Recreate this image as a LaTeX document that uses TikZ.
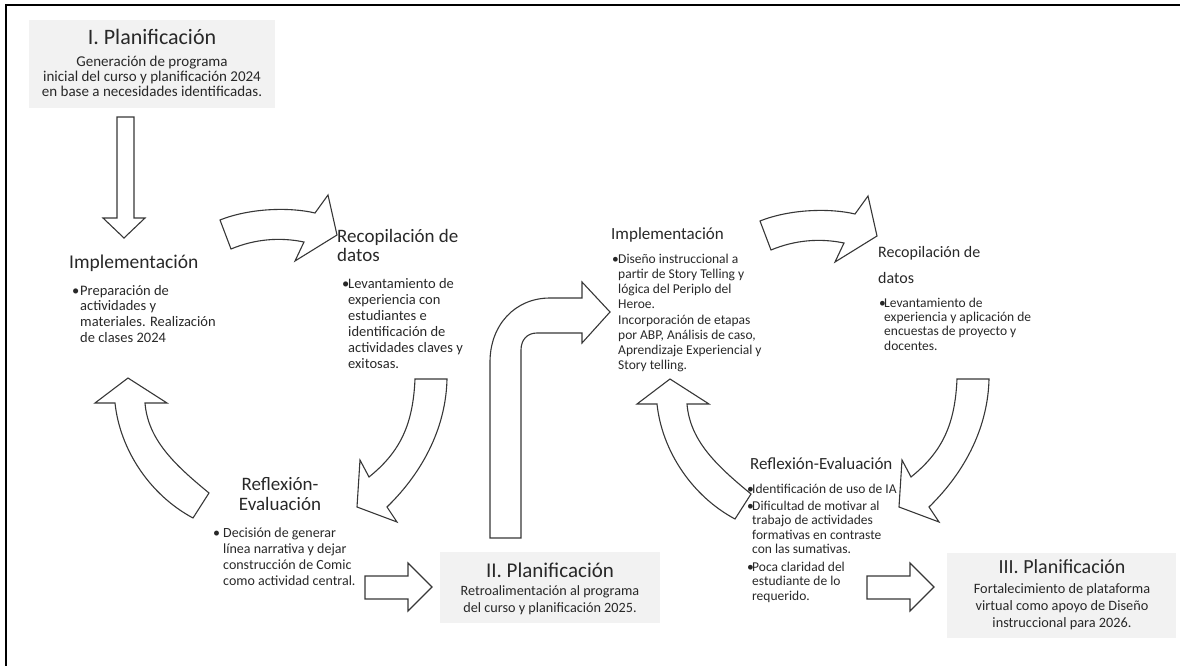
\documentclass[tikz,border=0pt]{standalone}
\usepackage{fontspec}
\setmainfont{Carlito}
\definecolor{txtc}{RGB}{40,40,40}
\definecolor{arrc}{RGB}{55,55,55}
\definecolor{boxc}{RGB}{242,242,242}
\newcommand\bulitem[1]{\leavevmode\llap{\makebox[#1][l]{•}}}
\newcommand\para[4]{\parbox[t]{#1}{\fontsize{#2}{#3}\selectfont\raggedright #4}}
\tikzset{
  lbl/.style={inner sep=0pt, text=txtc, anchor=base west},
  clbl/.style={inner sep=0pt, text=txtc, anchor=base},
  blockarrow/.style={draw=arrc, fill=white, line width=1.1pt, line join=miter},
  planbox/.style={fill=boxc, inner sep=0pt, anchor=north west},
  curveTop/.pic={\draw[blockarrow] (220,220) .. controls (250,208) and (290,207) .. (315,213) -- (328,195) -- (337,235) -- (295,261) -- (304,242) .. controls (280,237) and (255,239) .. (231,249) -- cycle;},
  curveDown/.pic={\draw[blockarrow] (415,379) .. controls (413,425) and (400,452) .. (369,477) -- (360,460) -- (357,507) -- (397,522) -- (387,507) .. controls (425,470) and (446,425) .. (447,379) -- cycle;},
  curveUp/.pic={\draw[blockarrow] (145,403) -- (167,403) -- (128,378) -- (95,403) -- (115,403) .. controls (120,450) and (150,495) .. (193,518) -- (209,493) .. controls (175,465) and (148,440) .. (145,403) -- cycle;},
  blockRight/.pic={\draw[blockarrow] (365,576) -- (408,576) -- (408,563) -- (432,587) -- (408,611) -- (408,599) -- (365,599) -- cycle;}
}
\begin{document}
\begin{tikzpicture}[x=1pt,y=-1pt]
\useasboundingbox (0,0) rectangle (1180,666);
\draw[line width=1.8pt] (6,5) rectangle (1195,700);

% plan boxes
\node[planbox, minimum width=246pt, minimum height=88pt] (boxI) at (29,20) {};
\node[planbox, minimum width=220pt, minimum height=71pt] (boxII) at (440,552) {};
\node[planbox, minimum width=229pt, minimum height=85pt] (boxIII) at (947,553) {};

% arrows
\draw[blockarrow] (117,117) -- (134,117) -- (134,218) -- (145,218) -- (124,238) -- (103,218) -- (117,218) -- cycle;
\pic at (0,0) {curveTop};
\pic at (540,1) {curveTop};
\pic at (0,0) {curveDown};
\pic at (542,0) {curveDown};
\pic at (0,0) {curveUp};
\pic at (542,1) {curveUp};
\pic at (0,0) {blockRight};
\pic at (502,0) {blockRight};
\draw[blockarrow] (490,538) -- (490,362) .. controls (490,325) and (515,298) .. (550,298) -- (582,298) -- (582,282) -- (610,312) -- (582,343) -- (582,333) -- (537,333) .. controls (527,333) and (521,340) .. (521,350) -- (521,538) -- cycle;

% box I
\node[clbl, font=\fontsize{22}{26}\selectfont] (tI) at (152,45) {I. Planificación};
\node[clbl] (sI) at (152,67) {\para{246pt}{15}{15}{\centering Generación de programa\\inicial del curso y planificación 2024\\en base a necesidades identificadas.}};

% left cycle
\node[lbl, font=\fontsize{19.5}{22}\selectfont] (implA) at (69,268) {Implementación};
\node[lbl] (implAt) at (72,295) {\para{170pt}{14.5}{15.7}{\leftskip=8pt \bulitem{8pt}Preparación de\\actividades y\\materiales. Realización\\de clases 2024}};
\node[lbl] (recA) at (337,242) {\para{150pt}{19}{19.5}{Recopilación de\\datos}};
\node[lbl] (recAt) at (342,288) {\para{170pt}{14.5}{16}{\leftskip=6pt \bulitem{6pt}Levantamiento de\\experiencia con\\estudiantes e\\identificación de\\actividades claves y\\exitosas.}};
\node[clbl] (refA) at (280,490) {\para{150pt}{19}{20}{\centering Reflexión-\\Evaluación}};
\node[lbl] (refAt) at (213,537) {\para{170pt}{14}{16}{\leftskip=10pt \bulitem{10pt}Decisión de generar\\línea narrativa y dejar\\construcción de Comic\\como actividad central.}};

% box II
\node[clbl, font=\fontsize{21}{25}\selectfont] (tII) at (550,577) {II. Planificación};
\node[clbl] (sII) at (550,595) {\para{220pt}{14.2}{17}{\centering Retroalimentación al programa\\del curso y planificación 2025.}};

% right cycle
\node[lbl, font=\fontsize{17}{20}\selectfont] (implB) at (611,239) {Implementación};
\node[lbl] (implBt) at (612,263) {\para{180pt}{13.5}{15}{\leftskip=6pt \bulitem{6pt}Diseño instruccional a\\partir de Story Telling y\\lógica del Periplo del\\Heroe.}};
\node[lbl] (implBt2) at (618,324) {\para{180pt}{13.5}{15}{Incorporación de etapas\\por ABP, Análisis de caso,\\Aprendizaje Experiencial y\\Story telling.}};
\node[lbl] (recB) at (878,257) {\para{150pt}{16}{26}{Recopilación de\\datos}};
\node[lbl] (recBt) at (879,307) {\para{180pt}{13.5}{14.4}{\leftskip=5pt \bulitem{5pt}Levantamiento de\\experiencia y aplicación de\\encuestas de proyecto y\\docentes.}};
\node[lbl, font=\fontsize{17}{20}\selectfont] (refB) at (750,469) {Reflexión-Evaluación};
\node[lbl] (refBt1) at (747,493) {\para{180pt}{13.5}{14.5}{\leftskip=5pt \bulitem{5pt}Identificación de uso de IA}};
\node[lbl] (refBt2) at (747,510) {\para{180pt}{13.5}{14.5}{\leftskip=5pt \bulitem{5pt}Dificultad de motivar al\\trabajo de actividades\\formativas en contraste\\con las sumativas.}};
\node[lbl] (refBt3) at (747,571) {\para{180pt}{13.5}{14.5}{\leftskip=5pt \bulitem{5pt}Poca claridad del\\estudiante de lo\\requerido.}};

% box III
\node[clbl, font=\fontsize{20}{24}\selectfont] (tIII) at (1062,573) {III. Planificación};
\node[clbl] (sIII) at (1062,593) {\para{229pt}{14.3}{17.3}{\centering Fortalecimiento de plataforma\\virtual como apoyo de Diseño\\instruccional para 2026.}};
\end{tikzpicture}
\end{document}
